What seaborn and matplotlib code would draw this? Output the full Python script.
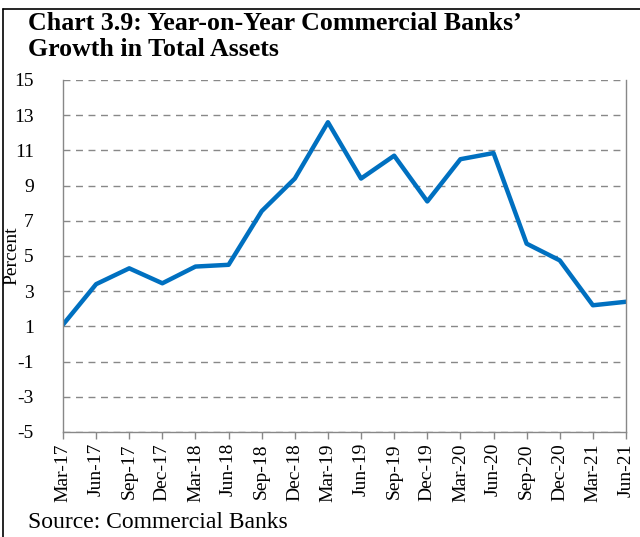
import matplotlib
matplotlib.use("Agg")
import matplotlib.pyplot as plt
import seaborn as sns
import pandas as pd
from matplotlib.lines import Line2D

quarters = ["Mar-17", "Jun-17", "Sep-17", "Dec-17", "Mar-18", "Jun-18", "Sep-18", "Dec-18",
            "Mar-19", "Jun-19", "Sep-19", "Dec-19", "Mar-20", "Jun-20", "Sep-20", "Dec-20",
            "Mar-21", "Jun-21"]
growth = [1.1, 3.4, 4.3, 3.45, 4.4, 4.5, 7.55, 9.4, 12.6, 9.4, 10.7, 8.1, 10.5, 10.85,
          5.7, 4.75, 2.2, 2.4]
yticks = list(range(-5, 16, 2))

sns.set_theme(style="white")
plt.rcParams["font.family"] = ["Liberation Serif", "DejaVu Serif"]
plt.rcParams["text.color"] = "black"
plt.rcParams["axes.labelcolor"] = "black"
plt.rcParams["xtick.color"] = "black"
plt.rcParams["ytick.color"] = "black"

df = pd.DataFrame({"idx": range(len(quarters)), "growth": growth})

fig = plt.figure(figsize=(6.4, 5.37), dpi=100)
ax = fig.add_axes([63/640, 1-432/537, (626-63)/640, (432-80)/537])
sns.lineplot(data=df, x="idx", y="growth", ax=ax, color="#0070C0", linewidth=3.2)

ax.set_xlim(0, len(quarters)-1)
ax.set_ylim(-5, 15)
ax.set_yticks(yticks)
ax.set_yticklabels([str(t) for t in yticks], fontsize=14)
ax.set_xticks(range(len(quarters)))
ax.set_xticklabels(quarters, rotation=90, fontsize=14)
ax.set_xlabel("")
ax.set_ylabel("Percent", fontsize=14)
ax.yaxis.set_label_coords(-(63-20)/563, 0.5)
ax.yaxis.grid(True, linestyle=(0, (5, 4)), color="#888888", linewidth=1)
ax.xaxis.grid(False)
for s in ["left", "bottom", "right"]:
    ax.spines[s].set_visible(True)
    ax.spines[s].set_color("#888888")
    ax.spines[s].set_linewidth(1)
ax.spines["top"].set_visible(False)
ax.tick_params(axis="x", bottom=True, length=5, color="#888888", labelcolor="black", width=1, pad=3)
ax.tick_params(axis="y", left=False, pad=15, labelcolor="black")

fig.text(28/640, 1-24/537, "Chart 3.9: Year-on-Year Commercial Banks\u2019",
         fontsize=18.6, fontweight="bold", va="center", ha="left", color="black")
fig.text(28/640, 1-49/537, "Growth in Total Assets",
         fontsize=18.6, fontweight="bold", va="center", ha="left", color="black")
fig.text(28/640, 1-523/537, "Source: Commercial Banks", fontsize=17, va="center", ha="left", color="black")

fig.add_artist(Line2D([3/640, 3/640], [0, 1-9/537], transform=fig.transFigure, color="black", linewidth=1.2))
fig.add_artist(Line2D([3/640, 1], [1-9/537, 1-9/537], transform=fig.transFigure, color="black", linewidth=1.2))

fig.savefig("out.png", dpi=100)
